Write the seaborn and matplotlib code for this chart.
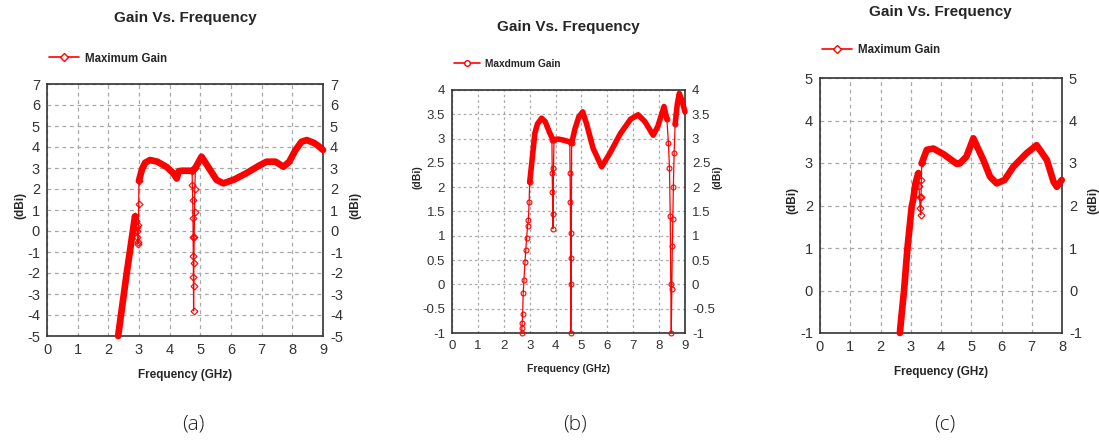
import matplotlib
matplotlib.use("Agg")
import matplotlib.pyplot as plt
from matplotlib.lines import Line2D
import pandas as pd
import seaborn as sns

sns.set_theme(style="white")
plt.rcParams["font.family"] = ["Liberation Sans", "DejaVu Sans"]

RED = "#ff0000"

# ---------------------------------------------------------------------------
# (a) values
# ---------------------------------------------------------------------------
freq_a1 = [2.32, 2.45, 2.6, 2.75, 2.87]
gain_a1 = [-5.0, -3.6, -2.0, -0.5, 0.7]
freq_a2 = [3.0, 3.1, 3.2, 3.36, 3.6, 3.9, 4.12, 4.23, 4.3, 4.39, 4.66, 4.75,
           4.86, 5.04, 5.3, 5.53, 5.75, 6.1, 6.5, 6.9, 7.16, 7.45, 7.71, 7.9,
           8.1, 8.3, 8.47, 8.7, 8.85, 9.0]
gain_a2 = [2.4, 2.95, 3.25, 3.38, 3.3, 3.05, 2.75, 2.5, 2.85, 2.87, 2.87, 2.85,
           3.06, 3.54, 2.95, 2.43, 2.27, 2.45, 2.75, 3.1, 3.3, 3.3, 3.06, 3.3,
           3.85, 4.25, 4.33, 4.2, 4.05, 3.86]
dip_a1_x = [2.87, 2.9, 2.92, 2.93, 2.95, 2.96, 2.97, 2.98, 2.99, 3.0]
dip_a1_y = [0.7, 0.5, 0.2, 0.0, -0.3, -0.5, -0.6, 0.3, 1.3, 2.4]
dip_a2_x = [4.73, 4.74, 4.75, 4.76, 4.765, 4.77, 4.775, 4.78, 4.785, 4.79, 4.8, 4.81, 4.82, 4.84]
dip_a2_y = [2.85, 2.2, 1.5, 0.6, -0.3, -1.2, -2.2, -3.8, -2.6, -1.5, -0.3, 0.9, 2.0, 3.0]

# ---------------------------------------------------------------------------
# (b)
# ---------------------------------------------------------------------------
freq_b1 = [3.0, 3.08, 3.2, 3.3, 3.46, 3.6, 3.78, 3.9, 4.1, 4.3, 4.49, 4.55]
gain_b1 = [2.1, 2.49, 3.11, 3.3, 3.42, 3.35, 3.11, 2.98, 2.99, 2.97, 2.94, 2.94]
freq_b2 = [4.62, 4.75, 4.9, 5.05, 5.2, 5.45, 5.78, 6.1, 6.5, 6.9, 7.19, 7.45,
           7.77, 7.95, 8.19, 8.3]
gain_b2 = [2.9, 3.2, 3.45, 3.55, 3.3, 2.8, 2.42, 2.7, 3.1, 3.4, 3.49, 3.35,
           3.07, 3.25, 3.66, 3.4]
freq_b3 = [8.62, 8.7, 8.78, 8.9, 9.0]
gain_b3 = [3.3, 3.7, 3.93, 3.75, 3.55]
dip_b1_x = [2.69, 2.7, 2.71, 2.73, 2.75, 2.78, 2.82, 2.85, 2.88, 2.92, 2.95, 2.98, 3.0]
dip_b1_y = [-1.0, -0.9, -0.8, -0.6, -0.18, 0.1, 0.47, 0.7, 0.95, 1.2, 1.33, 1.7, 2.1]
dip_b2_x = [3.86, 3.87, 3.88, 3.89, 3.9, 3.92, 3.94]
dip_b2_y = [2.98, 2.3, 1.9, 1.45, 1.15, 2.4, 2.98]
dip_b3_x = [4.55, 4.56, 4.57, 4.58, 4.59, 4.6, 4.61, 4.62]
dip_b3_y = [2.94, 2.3, 1.7, 0.55, -1.0, 0.0, 1.05, 2.9]
dip_b4_x = [8.3, 8.36, 8.4, 8.43, 8.45, 8.47, 8.49, 8.51, 8.53, 8.55, 8.58, 8.62]
dip_b4_y = [3.4, 2.9, 2.4, 1.4, 0.0, -1.0, -0.1, 0.8, 1.35, 2.0, 2.7, 3.3]

# ---------------------------------------------------------------------------
# (c)
# ---------------------------------------------------------------------------
freq_c1 = [2.64, 2.7, 2.78, 2.89, 3.03, 3.08, 3.15, 3.25]
gain_c1 = [-1.0, -0.55, 0.01, 0.99, 1.97, 2.13, 2.5, 2.76]
freq_c2 = [3.36, 3.53, 3.75, 4.1, 4.52, 4.62, 4.84, 5.07, 5.4, 5.62, 5.84, 6.1,
           6.39, 6.83, 7.16, 7.5, 7.72, 7.83, 7.99]
gain_c2 = [2.99, 3.31, 3.34, 3.2, 2.98, 2.99, 3.15, 3.58, 3.07, 2.68, 2.52, 2.6,
           2.91, 3.23, 3.42, 3.07, 2.56, 2.44, 2.6]
dip_c1_x = [3.25, 3.27, 3.29, 3.31, 3.33, 3.34, 3.35, 3.36]
dip_c1_y = [2.76, 2.45, 2.2, 1.95, 1.78, 2.2, 2.6, 2.99]

# figure layout in pixels (left, top, right, bottom) of each plot area
FIG_W, FIG_H = 1099, 442
BOXES = [(47, 84, 323, 336), (452, 90, 685, 333), (820, 78, 1062, 333)]


def segments(pairs):
    rows = []
    for k, (xs, ys) in enumerate(pairs):
        rows += [{"freq": x, "gain": y, "seg": k} for x, y in zip(xs, ys)]
    return pd.DataFrame(rows)


panels = [
    dict(thick=[(freq_a1, gain_a1), (freq_a2, gain_a2)],
         thin=[(dip_a1_x, dip_a1_y), (dip_a2_x, dip_a2_y)],
         xmax=9, ylim=(-5, 7), ystep=1, marker="D", lw=4.8, grid=(0, (3, 3)),
         title_xy=(185, 18), caption="(a)", cap_x=193, leg_y=1.059,
         ylab_left=(-0.098, 0.52), ylab_right=(1.116, 0.52), fs=10.5, legend="Maximum Gain"),
    dict(thick=[(freq_b1, gain_b1), (freq_b2, gain_b2), (freq_b3, gain_b3)],
         thin=[(dip_b1_x, dip_b1_y), (dip_b2_x, dip_b2_y), (dip_b3_x, dip_b3_y), (dip_b4_x, dip_b4_y)],
         xmax=9, ylim=(-1, 4), ystep=0.5, marker="o", lw=4.0, grid=(0, (2, 2.5)),
         title_xy=(568, 27), caption="(b)", cap_x=575, leg_y=1.07,
         ylab_left=(-0.15, 0.64), ylab_right=(1.14, 0.64), fs=9.5, legend="Maxdmum Gain"),
    dict(thick=[(freq_c1, gain_c1), (freq_c2, gain_c2)],
         thin=[(dip_c1_x, dip_c1_y)],
         xmax=8, ylim=(-1, 5), ystep=1, marker="D", lw=4.8, grid=(0, (3, 3)),
         title_xy=(940, 12), caption="(c)", cap_x=945, leg_y=1.07,
         ylab_left=(-0.116, 0.52), ylab_right=(1.128, 0.52), fs=10.5, legend="Maximum Gain"),
]

fig = plt.figure(figsize=(FIG_W / 100, FIG_H / 100), dpi=100)

for box, p in zip(BOXES, panels):
    l, t, r, b = box
    ax = fig.add_axes([l / FIG_W, 1 - b / FIG_H, (r - l) / FIG_W, (b - t) / FIG_H])

    thick = segments(p["thick"])
    thin = segments(p["thin"])
    sns.lineplot(data=thick, x="freq", y="gain", units="seg", estimator=None,
                 sort=False, color=RED, lw=p["lw"], ax=ax, legend=False,
                 solid_capstyle="round", solid_joinstyle="round", clip_on=False, zorder=3)
    sns.lineplot(data=thin, x="freq", y="gain", units="seg", estimator=None,
                 sort=False, color=RED, lw=0.9, marker=p["marker"], markersize=3.5,
                 markerfacecolor="none", markeredgecolor=RED, markeredgewidth=0.8,
                 ax=ax, legend=False, clip_on=False, zorder=3)

    ax.set_xlim(0, p["xmax"])
    ax.set_ylim(*p["ylim"])
    ax.set_xticks(range(0, p["xmax"] + 1))
    yt = []
    v = p["ylim"][0]
    while v <= p["ylim"][1] + 1e-9:
        yt.append(round(v, 2))
        v += p["ystep"]
    ax.set_yticks(yt)
    ax.set_yticklabels([f"{y:g}" for y in yt])
    ax.grid(True, ls=p["grid"], color="#a8a8a8", lw=0.9)
    ax.tick_params(labelsize=p["fs"], colors="#333333", length=0, pad=5,
                   right=False, labelright=True)
    for s in ax.spines.values():
        s.set_color("#333333")
        s.set_linewidth(1.2)
    ax.set_xlabel("Frequency (GHz)", fontsize=p["fs"] - 2, fontweight="bold", labelpad=9)
    ax.set_ylabel("")
    for xy in (p["ylab_left"], p["ylab_right"]):
        ax.text(*xy, "(dBi)", transform=ax.transAxes, rotation=90, ha="center",
                va="center", fontsize=p["fs"] - 2, fontweight="bold")

    tx, ty = p["title_xy"]
    fig.text(tx / FIG_W, 1 - ty / FIG_H, "Gain Vs. Frequency", ha="center", va="center",
             fontsize=11, fontweight="bold")

    handle = Line2D([], [], color=RED, lw=1.2, marker=p["marker"], markersize=4,
                    markerfacecolor="white", markeredgecolor=RED)
    ax.legend([handle], [p["legend"]], loc="lower left", bbox_to_anchor=(-0.01, p["leg_y"]),
              frameon=False, handlelength=2.6, handletextpad=0.5, borderaxespad=0,
              prop={"size": p["fs"] - 2.2, "weight": "bold"})

    fig.text(p["cap_x"] / FIG_W, 1 - 425 / FIG_H, p["caption"], ha="center", va="center",
             fontsize=15, color="#222222", family=["Open Sans", "DejaVu Sans"],
             fontweight="light")

fig.savefig("out.png", dpi=100)
